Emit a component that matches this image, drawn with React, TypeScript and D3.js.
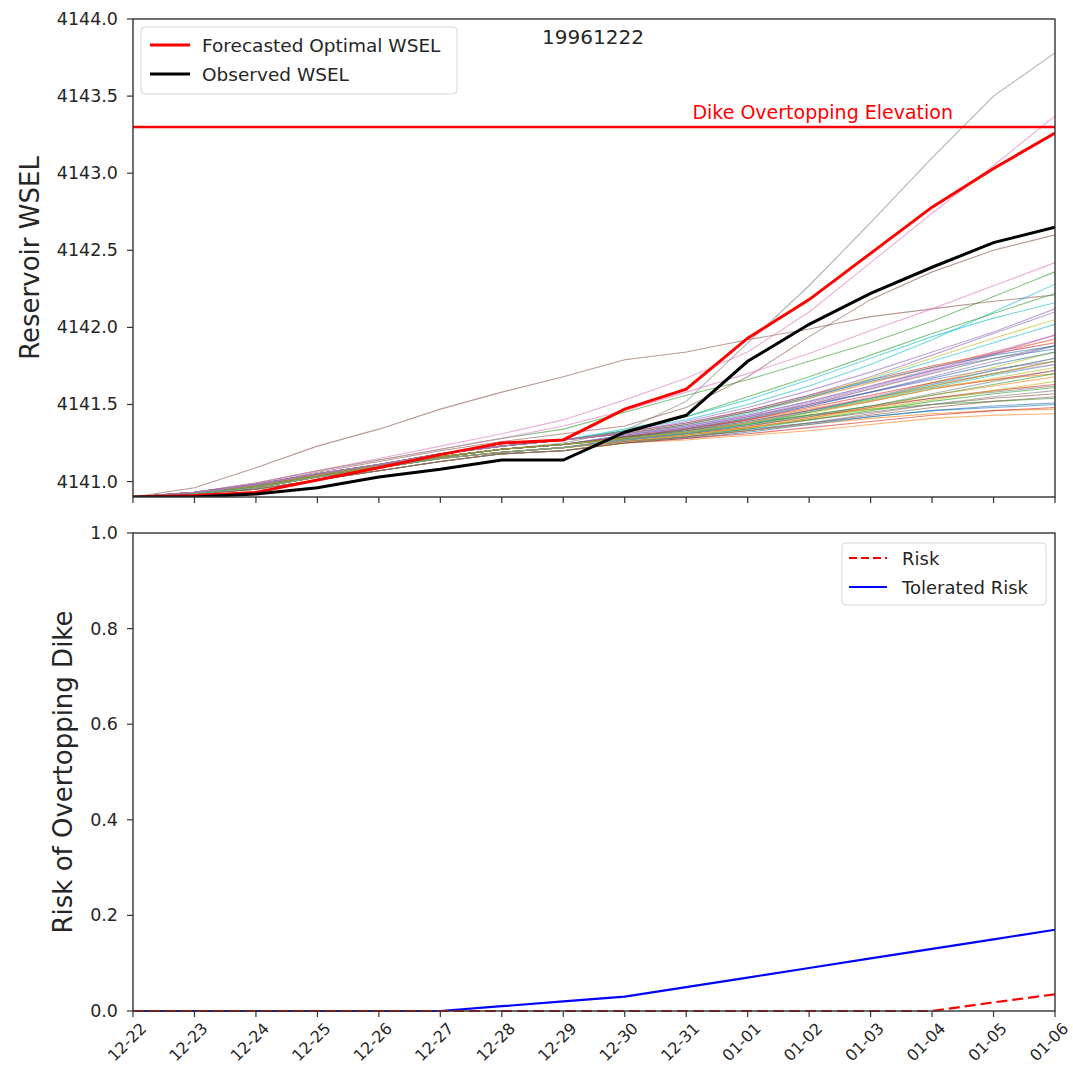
import React from 'react'
import * as d3 from 'd3'

const days = ['12-22', '12-23', '12-24', '12-25', '12-26', '12-27', '12-28', '12-29',
  '12-30', '12-31', '01-01', '01-02', '01-03', '01-04', '01-05', '01-06']

const forecastWsel = [4140.90, 4140.91, 4140.93, 4141.01, 4141.09, 4141.175, 4141.25, 4141.27,
  4141.47, 4141.60, 4141.93, 4142.18, 4142.48, 4142.78, 4143.03, 4143.26]

const observedWsel = [4140.90, 4140.90, 4140.92, 4140.96, 4141.03, 4141.08, 4141.14, 4141.14,
  4141.32, 4141.43, 4141.78, 4142.02, 4142.22, 4142.39, 4142.55, 4142.65]

const dikeElevation = 4143.3

// ensemble traces, one row per member
const ensemble = [
  [4140.90, 4140.93, 4140.98, 4141.05, 4141.11, 4141.18, 4141.23, 4141.27, 4141.31, 4141.36, 4141.43, 4141.52, 4141.62, 4141.72, 4141.80, 4141.86],
  [4140.90, 4140.92, 4140.96, 4141.03, 4141.09, 4141.15, 4141.19, 4141.22, 4141.26, 4141.29, 4141.33, 4141.37, 4141.41, 4141.44, 4141.46, 4141.47],
  [4140.90, 4140.93, 4140.99, 4141.07, 4141.14, 4141.21, 4141.28, 4141.34, 4141.45, 4141.56, 4141.66, 4141.78, 4141.90, 4142.04, 4142.20, 4142.36],
  [4140.90, 4140.92, 4140.97, 4141.04, 4141.10, 4141.16, 4141.21, 4141.24, 4141.28, 4141.32, 4141.38, 4141.45, 4141.52, 4141.60, 4141.66, 4141.72],
  [4140.90, 4140.92, 4140.97, 4141.04, 4141.10, 4141.16, 4141.21, 4141.24, 4141.30, 4141.35, 4141.42, 4141.50, 4141.58, 4141.66, 4141.73, 4141.78],
  [4140.90, 4140.96, 4141.09, 4141.23, 4141.34, 4141.47, 4141.58, 4141.68, 4141.79, 4141.84, 4141.92, 4141.99, 4142.07, 4142.12, 4142.17, 4142.21],
  [4140.90, 4140.93, 4140.99, 4141.07, 4141.15, 4141.23, 4141.31, 4141.40, 4141.53, 4141.67, 4141.84, 4142.10, 4142.42, 4142.74, 4143.05, 4143.37],
  [4140.90, 4140.92, 4140.97, 4141.04, 4141.10, 4141.16, 4141.21, 4141.25, 4141.33, 4141.52, 4141.90, 4142.27, 4142.68, 4143.10, 4143.50, 4143.78],
  [4140.90, 4140.92, 4140.97, 4141.04, 4141.10, 4141.16, 4141.21, 4141.24, 4141.27, 4141.31, 4141.37, 4141.44, 4141.52, 4141.60, 4141.67, 4141.74],
  [4140.90, 4140.93, 4140.98, 4141.05, 4141.11, 4141.18, 4141.23, 4141.27, 4141.33, 4141.40, 4141.50, 4141.62, 4141.76, 4141.92, 4142.10, 4142.28],
  [4140.90, 4140.92, 4140.96, 4141.03, 4141.09, 4141.15, 4141.19, 4141.22, 4141.27, 4141.30, 4141.34, 4141.38, 4141.42, 4141.46, 4141.48, 4141.50],
  [4140.90, 4140.92, 4140.97, 4141.04, 4141.10, 4141.16, 4141.21, 4141.24, 4141.29, 4141.34, 4141.40, 4141.47, 4141.54, 4141.61, 4141.66, 4141.70],
  [4140.90, 4140.92, 4140.97, 4141.04, 4141.10, 4141.16, 4141.21, 4141.24, 4141.29, 4141.33, 4141.38, 4141.43, 4141.47, 4141.50, 4141.52, 4141.54],
  [4140.90, 4140.93, 4140.98, 4141.05, 4141.11, 4141.18, 4141.23, 4141.27, 4141.32, 4141.38, 4141.46, 4141.56, 4141.66, 4141.75, 4141.83, 4141.90],
  [4140.90, 4140.92, 4140.96, 4141.03, 4141.09, 4141.15, 4141.19, 4141.22, 4141.28, 4141.33, 4141.40, 4141.49, 4141.58, 4141.68, 4141.78, 4141.88],
  [4140.90, 4140.93, 4140.98, 4141.06, 4141.13, 4141.20, 4141.26, 4141.31, 4141.36, 4141.48, 4141.68, 4141.94, 4142.18, 4142.36, 4142.50, 4142.60],
  [4140.90, 4140.93, 4140.99, 4141.07, 4141.14, 4141.21, 4141.28, 4141.36, 4141.46, 4141.58, 4141.70, 4141.83, 4141.98, 4142.12, 4142.27, 4142.42],
  [4140.90, 4140.92, 4140.97, 4141.04, 4141.10, 4141.16, 4141.21, 4141.24, 4141.28, 4141.32, 4141.37, 4141.43, 4141.49, 4141.54, 4141.58, 4141.62],
  [4140.90, 4140.92, 4140.96, 4141.03, 4141.09, 4141.15, 4141.19, 4141.22, 4141.27, 4141.31, 4141.37, 4141.45, 4141.54, 4141.64, 4141.74, 4141.84],
  [4140.90, 4140.92, 4140.97, 4141.04, 4141.10, 4141.16, 4141.21, 4141.24, 4141.30, 4141.36, 4141.44, 4141.54, 4141.66, 4141.78, 4141.90, 4142.02],
  [4140.90, 4140.92, 4140.97, 4141.04, 4141.10, 4141.16, 4141.21, 4141.24, 4141.29, 4141.34, 4141.41, 4141.49, 4141.58, 4141.67, 4141.76, 4141.84],
  [4140.90, 4140.92, 4140.95, 4141.01, 4141.07, 4141.13, 4141.18, 4141.20, 4141.25, 4141.27, 4141.30, 4141.33, 4141.37, 4141.41, 4141.43, 4141.44],
  [4140.90, 4140.93, 4140.98, 4141.05, 4141.11, 4141.18, 4141.23, 4141.27, 4141.33, 4141.42, 4141.55, 4141.68, 4141.82, 4141.96, 4142.09, 4142.22],
  [4140.90, 4140.92, 4140.96, 4141.03, 4141.09, 4141.15, 4141.19, 4141.22, 4141.27, 4141.31, 4141.36, 4141.42, 4141.48, 4141.54, 4141.59, 4141.63],
  [4140.90, 4140.93, 4140.98, 4141.05, 4141.11, 4141.18, 4141.23, 4141.27, 4141.32, 4141.38, 4141.46, 4141.56, 4141.68, 4141.82, 4141.96, 4142.10],
  [4140.90, 4140.92, 4140.97, 4141.04, 4141.10, 4141.16, 4141.21, 4141.24, 4141.28, 4141.31, 4141.35, 4141.40, 4141.45, 4141.50, 4141.54, 4141.57],
  [4140.90, 4140.92, 4140.97, 4141.04, 4141.10, 4141.16, 4141.21, 4141.24, 4141.30, 4141.35, 4141.42, 4141.50, 4141.60, 4141.71, 4141.82, 4141.93],
  [4140.90, 4140.92, 4140.96, 4141.03, 4141.09, 4141.15, 4141.19, 4141.22, 4141.27, 4141.31, 4141.36, 4141.42, 4141.49, 4141.57, 4141.65, 4141.72],
  [4140.90, 4140.93, 4140.98, 4141.05, 4141.11, 4141.18, 4141.23, 4141.27, 4141.31, 4141.37, 4141.45, 4141.55, 4141.67, 4141.80, 4141.93, 4142.05],
  [4140.90, 4140.92, 4140.97, 4141.04, 4141.10, 4141.16, 4141.21, 4141.24, 4141.29, 4141.33, 4141.39, 4141.46, 4141.53, 4141.61, 4141.69, 4141.76],
  [4140.90, 4140.92, 4140.95, 4141.01, 4141.07, 4141.13, 4141.18, 4141.20, 4141.25, 4141.28, 4141.32, 4141.37, 4141.42, 4141.46, 4141.49, 4141.51],
  [4140.90, 4140.93, 4140.98, 4141.05, 4141.11, 4141.18, 4141.23, 4141.27, 4141.31, 4141.37, 4141.45, 4141.54, 4141.64, 4141.74, 4141.84, 4141.92],
  [4140.90, 4140.92, 4140.95, 4141.01, 4141.07, 4141.13, 4141.18, 4141.20, 4141.25, 4141.29, 4141.34, 4141.40, 4141.46, 4141.52, 4141.57, 4141.61],
  [4140.90, 4140.92, 4140.97, 4141.04, 4141.10, 4141.16, 4141.21, 4141.24, 4141.29, 4141.34, 4141.40, 4141.48, 4141.56, 4141.64, 4141.72, 4141.80],
  [4140.90, 4140.92, 4140.97, 4141.04, 4141.10, 4141.16, 4141.21, 4141.24, 4141.30, 4141.35, 4141.42, 4141.51, 4141.61, 4141.72, 4141.83, 4141.95],
  [4140.90, 4140.92, 4140.96, 4141.03, 4141.09, 4141.15, 4141.19, 4141.22, 4141.26, 4141.29, 4141.33, 4141.38, 4141.43, 4141.48, 4141.52, 4141.55],
  [4140.90, 4140.92, 4140.96, 4141.03, 4141.09, 4141.15, 4141.19, 4141.22, 4141.27, 4141.32, 4141.38, 4141.46, 4141.55, 4141.63, 4141.70, 4141.76],
  [4140.90, 4140.92, 4140.97, 4141.04, 4141.10, 4141.16, 4141.21, 4141.24, 4141.29, 4141.34, 4141.41, 4141.50, 4141.60, 4141.70, 4141.80, 4141.88],
  [4140.90, 4140.92, 4140.96, 4141.03, 4141.09, 4141.15, 4141.19, 4141.22, 4141.26, 4141.30, 4141.35, 4141.41, 4141.47, 4141.53, 4141.59, 4141.65],
  [4140.90, 4140.93, 4140.98, 4141.05, 4141.11, 4141.18, 4141.23, 4141.27, 4141.34, 4141.42, 4141.53, 4141.66, 4141.80, 4141.94, 4142.06, 4142.16],
  [4140.90, 4140.93, 4140.98, 4141.05, 4141.11, 4141.18, 4141.23, 4141.27, 4141.31, 4141.37, 4141.45, 4141.55, 4141.65, 4141.74, 4141.82, 4141.88],
  [4140.90, 4140.92, 4140.96, 4141.03, 4141.09, 4141.15, 4141.19, 4141.22, 4141.26, 4141.30, 4141.35, 4141.41, 4141.48, 4141.56, 4141.62, 4141.68],
  [4140.90, 4140.92, 4140.97, 4141.04, 4141.10, 4141.16, 4141.21, 4141.24, 4141.28, 4141.32, 4141.37, 4141.43, 4141.49, 4141.56, 4141.63, 4141.70],
  [4140.90, 4140.92, 4140.95, 4141.01, 4141.07, 4141.13, 4141.18, 4141.20, 4141.25, 4141.28, 4141.31, 4141.35, 4141.39, 4141.43, 4141.46, 4141.48],
  [4140.90, 4140.93, 4140.98, 4141.05, 4141.11, 4141.18, 4141.23, 4141.27, 4141.32, 4141.39, 4141.48, 4141.59, 4141.71, 4141.84, 4141.97, 4142.12],
  [4140.90, 4140.92, 4140.97, 4141.04, 4141.10, 4141.16, 4141.21, 4141.24, 4141.29, 4141.33, 4141.39, 4141.46, 4141.54, 4141.62, 4141.70, 4141.78],
  [4140.90, 4140.93, 4140.98, 4141.05, 4141.11, 4141.18, 4141.23, 4141.27, 4141.31, 4141.36, 4141.43, 4141.52, 4141.62, 4141.73, 4141.84, 4141.95],
  [4140.90, 4140.92, 4140.95, 4141.01, 4141.07, 4141.13, 4141.18, 4141.20, 4141.26, 4141.29, 4141.33, 4141.38, 4141.44, 4141.50, 4141.55, 4141.59],
  [4140.90, 4140.92, 4140.97, 4141.04, 4141.10, 4141.16, 4141.21, 4141.24, 4141.28, 4141.32, 4141.38, 4141.45, 4141.53, 4141.62, 4141.70, 4141.78],
  [4140.90, 4140.92, 4140.96, 4141.03, 4141.09, 4141.15, 4141.19, 4141.22, 4141.27, 4141.31, 4141.37, 4141.45, 4141.54, 4141.63, 4141.72, 4141.80],
]

const riskValues = [0, 0, 0, 0, 0, 0, 0, 0, 0, 0, 0, 0, 0, 0, 0.018, 0.035]
const toleratedRisk = [0, 0, 0, 0, 0, 0, 0.01, 0.02, 0.03, 0.05, 0.07, 0.09, 0.11, 0.13, 0.15, 0.17]

const wselTicks = [4141.0, 4141.5, 4142.0, 4142.5, 4143.0, 4143.5, 4144.0]
const riskTicks = [0, 0.2, 0.4, 0.6, 0.8, 1.0]

const tab10 = ['#1f77b4', '#ff7f0e', '#2ca02c', '#d62728', '#9467bd',
  '#8c564b', '#e377c2', '#7f7f7f', '#bcbd22', '#17becf']

const W = 1073
const H = 1077
const left = 133
const right = 1055
const top1 = 19
const bottom1 = 497
const top2 = 533
const bottom2 = 1011
const font = 'DejaVu Sans, sans-serif'
const txt = '#262626'
const tickSize = 17.5

export default function App() {
  const x = d3.scalePoint<string>().domain(days).range([left, right])
  const y1 = d3.scaleLinear().domain([4140.9, 4144.0]).range([bottom1, top1])
  const y2 = d3.scaleLinear().domain([0, 1]).range([bottom2, top2])

  const line1 = d3.line<number>().x((_, i) => x(days[i])!).y(d => y1(d))
  const line2 = d3.line<number>().x((_, i) => x(days[i])!).y(d => y2(d))

  const xTicks = (yb: number, labels: boolean) => days.map(d => {
    const cx = x(d)! - 6
    const cy = yb + 31
    return (
      <g key={d}>
        <line x1={x(d)} x2={x(d)} y1={yb} y2={yb + 6} stroke="#333" strokeWidth={1.2} />
        {labels && (
          <text x={cx} y={cy} textAnchor="middle" dominantBaseline="central"
            transform={`rotate(-45 ${cx} ${cy})`}
            fontSize={16} fill={txt} fontFamily={font}>{d}</text>
        )}
      </g>
    )
  })

  return (
    <svg width={W} height={H} style={{ position: 'absolute', left: 0, top: 0, background: '#fff' }}>
      <rect width={W} height={H} fill="#fff" />

      {/* top panel */}
      <defs>
        <clipPath id="clip1"><rect x={left} y={top1} width={right - left} height={bottom1 - top1} /></clipPath>
      </defs>
      <g clipPath="url(#clip1)">
        {ensemble.map((s, i) => (
          <path key={i} d={line1(s)!} fill="none" stroke={tab10[i % 10]} strokeWidth={1.1} strokeOpacity={0.6} />
        ))}
        <line x1={left} x2={right} y1={y1(dikeElevation)} y2={y1(dikeElevation)} stroke="#ff0000" strokeWidth={2.4} />
        <path d={line1(forecastWsel)!} fill="none" stroke="#ff0000" strokeWidth={3} />
        <path d={line1(observedWsel)!} fill="none" stroke="#000" strokeWidth={3} />
      </g>
      <text x={953} y={y1(dikeElevation) - 8} textAnchor="end" fontSize={19} fill="#ff0000" fontFamily={font}>Dike Overtopping Elevation</text>
      <text x={593} y={44} textAnchor="middle" fontSize={20} fill={txt} fontFamily={font}>19961222</text>
      <rect x={left} y={top1} width={right - left} height={bottom1 - top1} fill="none" stroke="#333" strokeWidth={1.4} />
      {wselTicks.map(t => (
        <g key={t}>
          <line x1={left - 6} x2={left} y1={y1(t)} y2={y1(t)} stroke="#333" strokeWidth={1.2} />
          <text x={left - 15} y={y1(t)} textAnchor="end" dominantBaseline="central" fontSize={tickSize} fill={txt} fontFamily={font}>{t.toFixed(1)}</text>
        </g>
      ))}
      {xTicks(bottom1, false)}
      <text transform={`translate(30 ${(top1 + bottom1) / 2}) rotate(-90)`} textAnchor="middle" dominantBaseline="central"
        fontSize={26} fill={txt} fontFamily={font}>Reservoir WSEL</text>

      {/* top legend */}
      <rect x={141} y={27} width={316} height={67} rx={4} fill="#fff" fillOpacity={0.8} stroke="#d6d6d6" />
      <line x1={150} x2={190} y1={45} y2={45} stroke="#ff0000" strokeWidth={3} />
      <text x={202} y={45} dominantBaseline="central" fontSize={18.5} fill={txt} fontFamily={font}>Forecasted Optimal WSEL</text>
      <line x1={150} x2={190} y1={74} y2={74} stroke="#000" strokeWidth={3} />
      <text x={202} y={74} dominantBaseline="central" fontSize={18.5} fill={txt} fontFamily={font}>Observed WSEL</text>

      {/* bottom panel */}
      <path d={line2(toleratedRisk)!} fill="none" stroke="#0000ff" strokeWidth={2.2} />
      <path d={line2(riskValues)!} fill="none" stroke="#ff0000" strokeWidth={2.2} strokeDasharray="11,5" />
      <rect x={left} y={top2} width={right - left} height={bottom2 - top2} fill="none" stroke="#333" strokeWidth={1.4} />
      {riskTicks.map(t => (
        <g key={t}>
          <line x1={left - 6} x2={left} y1={y2(t)} y2={y2(t)} stroke="#333" strokeWidth={1.2} />
          <text x={left - 15} y={y2(t)} textAnchor="end" dominantBaseline="central" fontSize={tickSize} fill={txt} fontFamily={font}>{t.toFixed(1)}</text>
        </g>
      ))}
      {xTicks(bottom2, true)}
      <text transform={`translate(63 ${(top2 + bottom2) / 2}) rotate(-90)`} textAnchor="middle" dominantBaseline="central"
        fontSize={26} fill={txt} fontFamily={font}>Risk of Overtopping Dike</text>

      {/* bottom legend */}
      <rect x={842} y={543} width={204} height={62} rx={4} fill="#fff" fillOpacity={0.8} stroke="#d6d6d6" />
      <line x1={849} x2={887} y1={558} y2={558} stroke="#ff0000" strokeWidth={2.2} strokeDasharray="8,4" />
      <text x={902} y={558} dominantBaseline="central" fontSize={18} fill={txt} fontFamily={font}>Risk</text>
      <line x1={849} x2={887} y1={587} y2={587} stroke="#0000ff" strokeWidth={2.2} />
      <text x={902} y={587} dominantBaseline="central" fontSize={18} fill={txt} fontFamily={font}>Tolerated Risk</text>
    </svg>
  )
}
